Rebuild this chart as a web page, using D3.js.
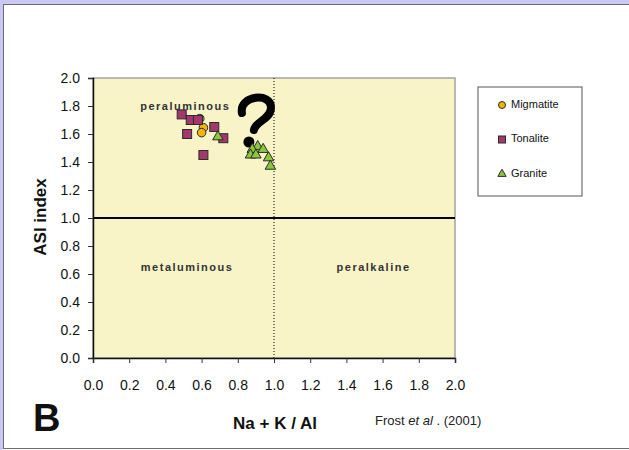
<!DOCTYPE html>
<html>
<head>
<meta charset="utf-8">
<script src="https://cdn.jsdelivr.net/npm/d3@7"></script>
<style>
  html, body { margin: 0; padding: 0; background: #fff; }
  svg { display: block; font-family: "Liberation Sans", Arial, sans-serif; }
</style>
</head>
<body>
<div id="chart"></div>
<script>
// ASI vs Na + K / Al
const migmatiteX = [0.59, 0.61, 0.60];
const migmatiteY = [1.71, 1.645, 1.61];

const tonaliteX = [0.49, 0.54, 0.58, 0.67, 0.52, 0.72, 0.61];
const tonaliteY = [1.74, 1.70, 1.70, 1.65, 1.60, 1.57, 1.45];

const graniteX = [0.69, 0.91, 0.88, 0.94, 0.87, 0.90, 0.97, 0.98];
const graniteY = [1.58, 1.51, 1.49, 1.49, 1.45, 1.45, 1.43, 1.37];

const axisTicks = [0, 0.2, 0.4, 0.6, 0.8, 1.0, 1.2, 1.4, 1.6, 1.8, 2.0];
const seriesNames = ["Migmatite", "Tonalite", "Granite"];
const fieldLabels = [
	{ text: "peraluminous", x: 0.51, y: 1.79 },
	{ text: "metaluminous", x: 0.52, y: 0.64 },
	{ text: "peralkaline", x: 1.55, y: 0.64 }
];

const width = 629, height = 450;
const svg = d3.select('#chart')
	.append('svg')
		.attr('width', width)
		.attr('height', height);

// page frame
svg.append('rect').attr('x', 0).attr('y', 0).attr('width', width).attr('height', height).attr('fill', '#ffffff');
svg.append('rect').attr('x', 0).attr('y', 0).attr('width', width).attr('height', 4).attr('fill', '#c9c9f3');
svg.append('rect').attr('x', 0).attr('y', 0).attr('width', 3).attr('height', height).attr('fill', '#c9c9f3');
svg.append('line').attr('x1', 3).attr('x2', width).attr('y1', 4.5).attr('y2', 4.5).attr('stroke', '#6e6e6e');
svg.append('line').attr('x1', 3.5).attr('x2', 3.5).attr('y1', 4).attr('y2', 448).attr('stroke', '#6e6e6e');
svg.append('line').attr('x1', 3).attr('x2', width).attr('y1', 448.5).attr('y2', 448.5).attr('stroke', '#6e6e6e');

const x = d3.scaleLinear().domain([0, 2]).range([93, 455]);
const y = d3.scaleLinear().domain([0, 2]).range([358, 78]);

// plot area
svg.append('rect')
	.attr('x', x(0)).attr('y', y(2))
	.attr('width', x(2) - x(0)).attr('height', y(0) - y(2))
	.attr('fill', '#f8f4c8')
	.attr('stroke', '#a3a3a3')
	.attr('stroke-width', 1.5);

// field boundaries
svg.append('line')
	.attr('x1', x(1)).attr('x2', x(1))
	.attr('y1', y(2)).attr('y2', y(0))
	.attr('stroke', '#000').attr('stroke-width', 1)
	.attr('stroke-dasharray', '1,2');
svg.append('line')
	.attr('x1', x(0)).attr('x2', x(2))
	.attr('y1', y(1)).attr('y2', y(1))
	.attr('stroke', '#000').attr('stroke-width', 2);

// axes
const yAxis = svg.append('g')
	.attr('transform', `translate(${x(0)},0)`)
	.call(d3.axisLeft(y).tickValues(axisTicks).tickFormat(d3.format('.1f')).tickSize(5).tickPadding(8));
const xAxis = svg.append('g')
	.attr('transform', `translate(0,${y(0)})`)
	.call(d3.axisBottom(x).tickValues(axisTicks).tickFormat(d3.format('.1f')).tickSize(5).tickPadding(17));
[xAxis, yAxis].forEach(a => {
	a.select('.domain').attr('stroke', '#111').attr('stroke-width', 1.5);
	a.selectAll('.tick line').attr('stroke', '#333');
	a.selectAll('text')
		.attr('font-family', '"Liberation Sans", Arial, sans-serif')
		.attr('font-size', 14)
		.attr('fill', '#111');
});

// field labels
svg.selectAll('.field-label')
	.data(fieldLabels).enter()
	.append('text')
		.attr('class', 'field-label')
		.attr('x', d => x(d.x))
		.attr('y', d => y(d.y))
		.attr('text-anchor', 'middle')
		.attr('dominant-baseline', 'middle')
		.attr('font-size', 11)
		.attr('font-weight', 'bold')
		.attr('letter-spacing', 1.5)
		.attr('fill', '#333')
		.text(d => d.text);

// hand-drawn question mark next to the granite cluster
const qx = x(0.90), qy = y(1.60);
const qMark = svg.append('g').attr('transform', `translate(${qx},${qy})`);
qMark.append('path')
	.attr('d', 'M -14 -21 C -17 -39, 16 -42, 15 -26 C 15 -15, 0 -13, -2 -4')
	.attr('fill', 'none')
	.attr('stroke', '#000')
	.attr('stroke-width', 8)
	.attr('stroke-linecap', 'round');
qMark.append('circle')
	.attr('cx', -7).attr('cy', 8).attr('r', 5.5)
	.attr('fill', '#000');

// markers
const stroke = '#2b2b2b';
const circleData = migmatiteX.map((v, i) => ({ x: v, y: migmatiteY[i] }));
const squareData = tonaliteX.map((v, i) => ({ x: v, y: tonaliteY[i] }));
const triData = graniteX.map((v, i) => ({ x: v, y: graniteY[i] }));

svg.selectAll('.mig')
	.data(circleData).enter()
	.append('circle')
		.attr('class', 'mig')
		.attr('cx', d => x(d.x)).attr('cy', d => y(d.y))
		.attr('r', 4.3)
		.attr('fill', '#f2b40c')
		.attr('stroke', stroke).attr('stroke-width', 1);
svg.selectAll('.ton')
	.data(squareData).enter()
	.append('rect')
		.attr('class', 'ton')
		.attr('x', d => x(d.x) - 4.5).attr('y', d => y(d.y) - 4.5)
		.attr('width', 9).attr('height', 9)
		.attr('fill', '#a3386c')
		.attr('stroke', stroke).attr('stroke-width', 1);
const tri = d3.symbol().type(d3.symbolTriangle).size(48);
svg.selectAll('.gra')
	.data(triData).enter()
	.append('path')
		.attr('class', 'gra')
		.attr('d', tri)
		.attr('transform', d => `translate(${x(d.x)},${y(d.y)})`)
		.attr('fill', '#8cc63c')
		.attr('stroke', stroke).attr('stroke-width', 1);

// legend
const legend = svg.append('g').attr('transform', 'translate(478,87)');
legend.append('rect')
	.attr('x', 0).attr('y', 0).attr('width', 104).attr('height', 109)
	.attr('fill', '#fff').attr('stroke', '#555').attr('stroke-width', 1);
const legendY = d3.scalePoint().domain(seriesNames).range([18, 87]);
const items = legend.selectAll('.legend-item')
	.data(seriesNames).enter()
	.append('g')
		.attr('class', 'legend-item')
		.attr('transform', d => `translate(24,${legendY(d)})`);
items.filter(d => d === 'Migmatite').append('circle')
	.attr('r', 3.5).attr('fill', '#f2b40c').attr('stroke', stroke);
items.filter(d => d === 'Tonalite').append('rect')
	.attr('x', -3.5).attr('y', -3.5).attr('width', 7).attr('height', 7)
	.attr('fill', '#a3386c').attr('stroke', stroke);
items.filter(d => d === 'Granite').append('path')
	.attr('d', d3.symbol().type(d3.symbolTriangle).size(30))
	.attr('fill', '#8cc63c').attr('stroke', stroke);
items.append('text')
	.attr('x', 9)
	.attr('dominant-baseline', 'middle')
	.attr('font-size', 11)
	.attr('fill', '#111')
	.text(d => d);

// axis titles
svg.append('text')
	.attr('transform', 'translate(46,217) rotate(-90)')
	.attr('text-anchor', 'middle')
	.attr('font-size', 17)
	.attr('font-weight', 'bold')
	.attr('fill', '#111')
	.text('ASI index');
svg.append('text')
	.attr('x', 275)
	.attr('y', 429)
	.attr('text-anchor', 'middle')
	.attr('font-size', 17)
	.attr('font-weight', 'bold')
	.attr('fill', '#111')
	.text('Na + K / Al');

// panel letter and reference
svg.append('text')
	.attr('x', 33)
	.attr('y', 431)
	.attr('font-size', 38)
	.attr('font-weight', 'bold')
	.attr('fill', '#111')
	.text('B');
const ref = svg.append('text')
	.attr('x', 375)
	.attr('y', 425)
	.attr('font-size', 13)
	.attr('fill', '#222');
ref.append('tspan').text('Frost ');
ref.append('tspan').attr('font-style', 'italic').text('et al');
ref.append('tspan').text(' . (2001)');
</script>
</body>
</html>
